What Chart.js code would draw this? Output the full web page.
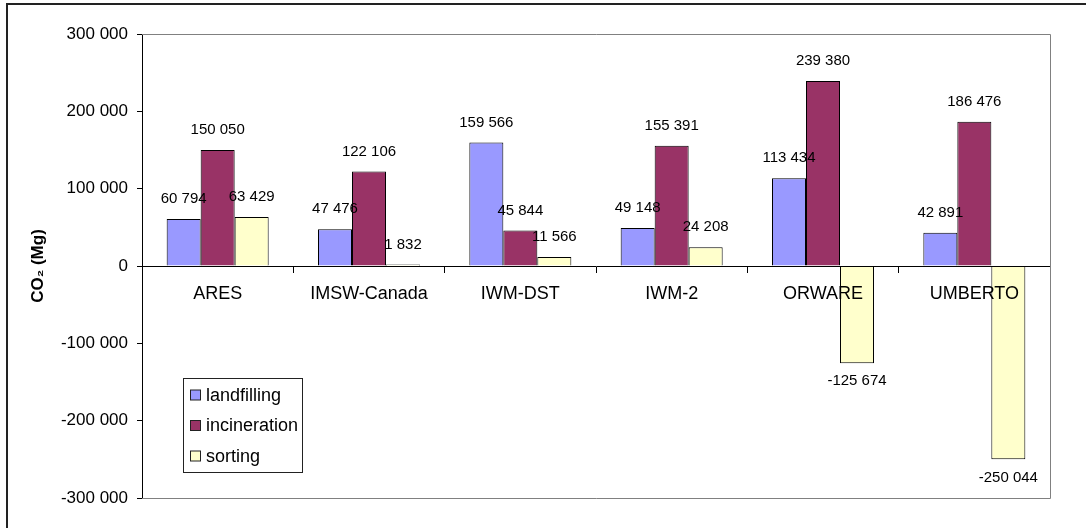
<!DOCTYPE html>
<html>
<head>
<meta charset="utf-8">
<script src="https://cdn.jsdelivr.net/npm/chart.js@4"></script>
<style>
  html, body { margin: 0; background: #fff; overflow: hidden; }
  #chart { display: block; }
</style>
</head>
<body>
<canvas id="chart" width="1086" height="528"></canvas>
<script>
const categories = ['ARES', 'IMSW-Canada', 'IWM-DST', 'IWM-2', 'ORWARE', 'UMBERTO'];
const landfilling = [60794, 47476, 159566, 49148, 113434, 42891];
const incineration = [150050, 122106, 45844, 155391, 239380, 186476];
const sorting = [63429, 1832, 11566, 24208, -125674, -250044];
const yMin = -300000;
const yMax = 300000;
const yStep = 100000;

const FONT = "'Liberation Sans', Arial, sans-serif";

// 300000 -> "300 000"
function fmt(v) {
    return String(v).replace(/\B(?=(\d{3})+(?!\d))/g, ' ');
}

// marco exterior (solo se ven los bordes izquierdo y superior)
const outerFrame = {
    id: 'outerFrame',
    beforeDraw(chart) {
        const ctx = chart.ctx;
        ctx.save();
        ctx.strokeStyle = '#222';
        ctx.lineWidth = 2;
        ctx.beginPath();
        ctx.moveTo(7, chart.height);
        ctx.lineTo(7, 4);
        ctx.lineTo(chart.width, 4);
        ctx.stroke();
        ctx.restore();
    }
};

// etiquetas de valores sobre / bajo las barras
const valueLabels = {
    id: 'valueLabels',
    afterDatasetsDraw(chart) {
        const ctx = chart.ctx;
        ctx.save();
        ctx.font = '15px ' + FONT;
        ctx.fillStyle = '#000';
        ctx.textAlign = 'center';
        ctx.textBaseline = 'middle';
        chart.data.datasets.forEach((ds, i) => {
            chart.getDatasetMeta(i).data.forEach((bar, j) => {
                const v = ds.data[j];
                const y = v >= 0 ? bar.y - 20 : bar.y + 18;
                ctx.fillText(fmt(v), bar.x, y);
            });
        });
        ctx.restore();
    }
};

// borde gris del área de trazado + leyenda dentro del gráfico
const plotFrame = {
    id: 'plotFrame',
    afterDraw(chart) {
        const ctx = chart.ctx;
        const a = chart.chartArea;
        ctx.save();
        ctx.strokeStyle = '#808080';
        ctx.lineWidth = 1;
        ctx.beginPath();
        ctx.moveTo(a.left, a.top + 0.5);
        ctx.lineTo(a.right + 0.5, a.top + 0.5);
        ctx.lineTo(a.right + 0.5, a.bottom + 0.5);
        ctx.lineTo(a.left, a.bottom + 0.5);
        ctx.stroke();

        // leyenda
        const lx = 183.5, ly = 378.5, lw = 119, lh = 94;
        ctx.fillStyle = '#fff';
        ctx.fillRect(lx, ly, lw, lh);
        ctx.strokeStyle = '#222';
        ctx.strokeRect(lx, ly, lw, lh);
        ctx.font = '18px ' + FONT;
        ctx.textAlign = 'left';
        ctx.textBaseline = 'middle';
        chart.data.datasets.forEach((ds, i) => {
            const cy = 395 + i * 30.5;
            ctx.fillStyle = ds.backgroundColor;
            ctx.fillRect(190.5, cy - 5, 10, 10);
            ctx.strokeStyle = '#222';
            ctx.strokeRect(190.5, cy - 5, 10, 10);
            ctx.fillStyle = '#000';
            ctx.fillText(ds.label, 206, cy + 1);
        });
        ctx.restore();
    }
};

const ctx = document.getElementById('chart');
const chart = new Chart(ctx, {
    type: 'bar',
    data: {
        labels: categories,
        datasets: [
            { label: 'landfilling', data: landfilling, backgroundColor: '#9999FF' },
            { label: 'incineration', data: incineration, backgroundColor: '#993366' },
            { label: 'sorting', data: sorting, backgroundColor: '#FFFFCC' }
        ]
    },
    options: {
        responsive: false,
        animation: false,
        datasets: {
            bar: {
                borderColor: '#000',
                borderWidth: 1,
                barPercentage: 1,
                categoryPercentage: 0.674
            }
        },
        layout: {
            padding: { left: 0, top: 34, right: 36, bottom: 30 }
        },
        scales: {
            x: {
                position: { y: 0 },
                grid: {
                    offset: true,
                    drawOnChartArea: false,
                    tickLength: 6,
                    color: '#000',
                    z: 1
                },
                border: { color: '#000', width: 1, z: 1 },
                ticks: {
                    color: '#000',
                    font: { size: 18, family: FONT },
                    padding: 11,
                    maxRotation: 0,
                    z: 1 // etiquetas por encima de las barras
                }
            },
            y: {
                min: yMin,
                max: yMax,
                afterFit: (scale) => { scale.width = 142; },
                grid: {
                    drawOnChartArea: false,
                    tickLength: 5,
                    color: '#000'
                },
                border: { color: '#000', width: 1 },
                ticks: {
                    stepSize: yStep,
                    color: '#000',
                    font: { size: 17, family: FONT },
                    padding: 9,
                    callback: (v) => fmt(v)
                },
                title: {
                    display: true,
                    text: 'CO₂ (Mg)',
                    color: '#000',
                    font: { size: 17, weight: 'bold', family: FONT },
                    padding: { top: 28, bottom: 0 }
                }
            }
        },
        plugins: {
            legend: { display: false },
            tooltip: { enabled: false }
        }
    },
    plugins: [outerFrame, valueLabels, plotFrame]
});
</script>
</body>
</html>
